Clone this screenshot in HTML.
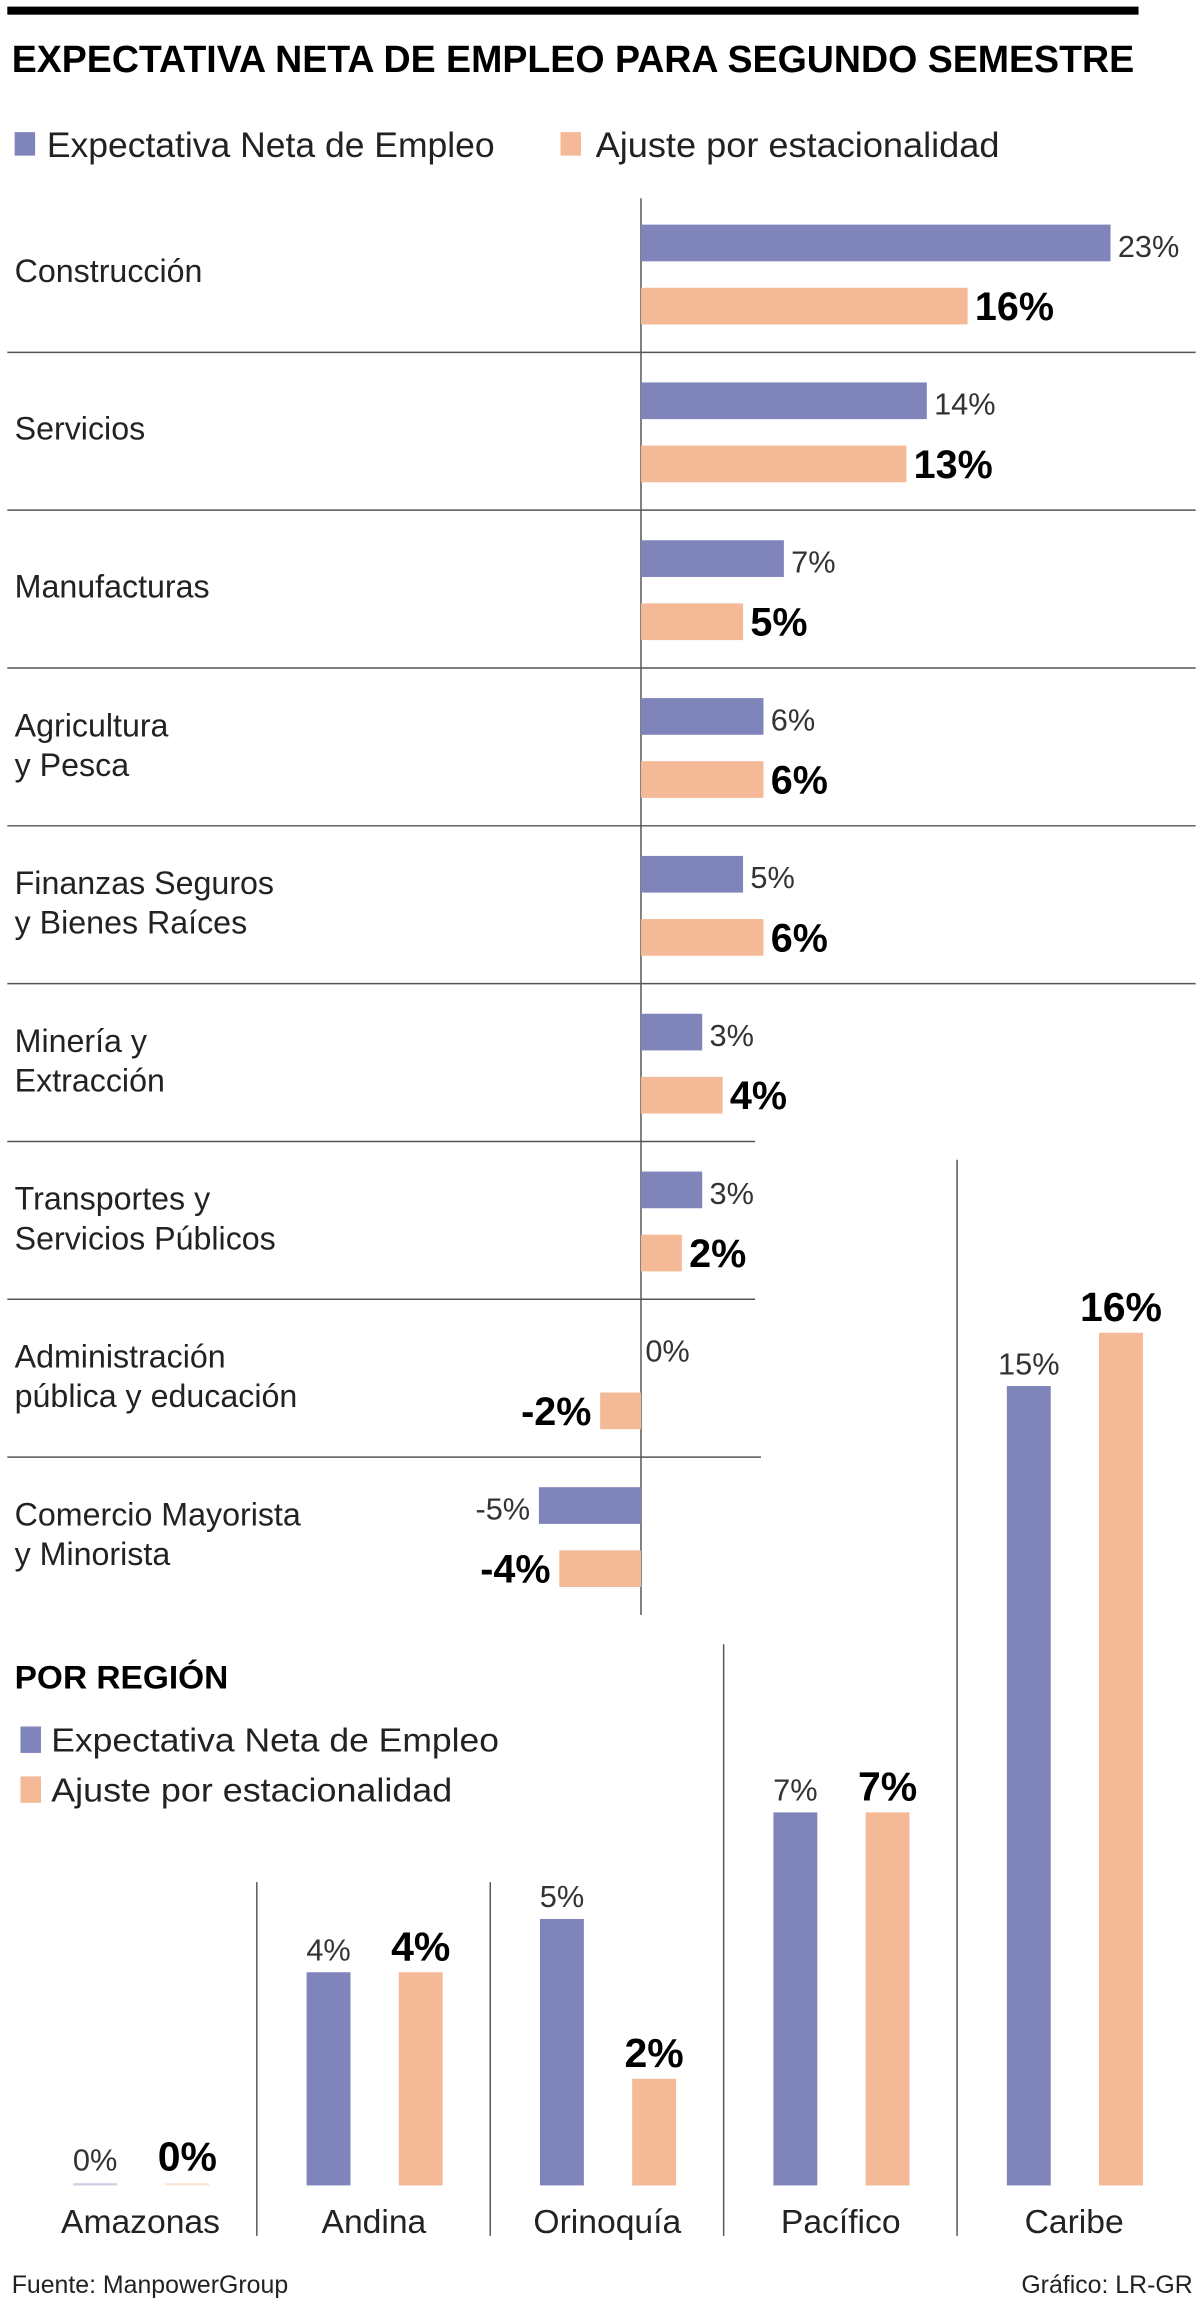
<!DOCTYPE html>
<html><head><meta charset="utf-8">
<style>
html,body{margin:0;padding:0;background:#fff;}
svg{display:block;font-family:"Liberation Sans",sans-serif;}
</style></head>
<body>
<svg id="chart" width="1200" height="2302" viewBox="0 0 820 1568" preserveAspectRatio="none" xmlns="http://www.w3.org/2000/svg">
<rect x="5" y="4.5" width="773" height="5.5" fill="#000"/>
<text x="8" y="49" font-size="26" font-weight="bold" fill="#000" textLength="767" lengthAdjust="spacingAndGlyphs">EXPECTATIVA NETA DE EMPLEO PARA SEGUNDO SEMESTRE</text>
<g>
<rect x="10" y="90" width="14" height="16" fill="#7f84bb"/>
<text x="32" y="107" font-size="24" fill="#222" textLength="306" lengthAdjust="spacingAndGlyphs">Expectativa Neta de Empleo</text>
<rect x="383" y="90" width="14" height="16" fill="#f4b997"/>
<text x="407" y="107" font-size="24" fill="#222" textLength="276" lengthAdjust="spacingAndGlyphs">Ajuste por estacionalidad</text>
</g>
<g id="sectors"></g>
<g id="regions"></g>
<text x="8" y="1562" font-size="17" fill="#222">Fuente: ManpowerGroup</text>
<text x="815" y="1562" font-size="17" fill="#222" text-anchor="end">Gráfico: LR-GR</text>
</svg>
<script>
const sectorLines1 = ["Construcción","Servicios","Manufacturas","Agricultura","Finanzas Seguros","Minería y","Transportes y","Administración","Comercio Mayorista"];
const sectorLines2 = ["","","","y Pesca","y Bienes Raíces","Extracción","Servicios Públicos","pública y educación","y Minorista"];
const sectorExpectativa = [23,14,7,6,5,3,3,0,-5];
const sectorAjuste = [16,13,5,6,6,4,2,-2,-4];
const regionNames = ["Amazonas","Andina","Orinoquía","Pacífico","Caribe"];
const regionExpectativa = [0,4,5,7,15];
const regionAjuste = [0,4,2,7,16];

const NS = "http://www.w3.org/2000/svg";
function mk(parent, tag, attrs, txt){
  const e = document.createElementNS(NS, tag);
  for (const k in attrs) e.setAttribute(k, attrs[k]);
  if (txt !== undefined) e.textContent = txt;
  parent.appendChild(e);
  return e;
}
const BLUE="#7f84bb", ORANGE="#f4b997";

// sector chart
const sg = document.getElementById("sectors");
const x0 = 438, pxPer = 13.95;
const xs = v => x0 + v*pxPer;
const rowTop = i => 153 + 107.5*i;
const sepEnd = [817,817,817,817,817,516,516,520];
const ax = mk(sg,"line",{x1:x0,y1:135,x2:x0,y2:1100,stroke:"#555","stroke-width":1});


sectorLines1.forEach((n,i)=>{
  const t = rowTop(i);
  const mid = t + 35;
  if (sectorLines2[i]) {
    const a = mk(sg,"text",{x:10,y:mid-9,"font-size":22,fill:"#222"},n);
    
    
    const b = mk(sg,"text",{x:10,y:mid+18,"font-size":22,fill:"#222"},sectorLines2[i]);
    
    
  } else {
    const a = mk(sg,"text",{x:10,y:mid+4,"font-size":22,fill:"#222"},n);
    
    
  }
  [[sectorExpectativa[i],BLUE,t,false],[sectorAjuste[i],ORANGE,t+43,true]].forEach(([v,c,y,bold])=>{
    const bx = Math.min(xs(0),xs(v)), bw = Math.abs(xs(v)-xs(0));
    if (bw>0){
      const r = mk(sg,"rect",{x:bx,y:y,width:bw,height:25,fill:c});
      
      
    }
    const lab = v + "%";
    const neg = v < 0;
    const lx = neg ? xs(v)-6 : xs(v)+ (v===0 ? 3 : 5);
    const ly = y+22;
    const tt = mk(sg,"text",{x:lx,y:ly,"font-size":bold?27:21,"font-weight":bold?"bold":"normal",fill:bold?"#000":"#333","text-anchor":neg?"end":"start"},lab);
    
    
  });
  if (i < sectorLines1.length-1){
    const s = mk(sg,"line",{x1:5,y1:t+87,x2:sepEnd[i],y2:t+87,stroke:"#555","stroke-width":1});
    
    
  }
});

// region chart
const rg = document.getElementById("regions");
const h = mk(rg,"text",{x:10,y:1150,"font-size":22,"font-weight":"bold",fill:"#000",textLength:146,lengthAdjust:"spacingAndGlyphs"},"POR REGIÓN");


const l1 = mk(rg,"rect",{x:14,y:1176,width:14,height:18,fill:BLUE});


const l1t = mk(rg,"text",{x:35,y:1193,"font-size":23,fill:"#222",textLength:306,lengthAdjust:"spacingAndGlyphs"},"Expectativa Neta de Empleo");


const l2 = mk(rg,"rect",{x:14,y:1210,width:14,height:18,fill:ORANGE});


const l2t = mk(rg,"text",{x:35,y:1227,"font-size":23,fill:"#222",textLength:274,lengthAdjust:"spacingAndGlyphs"},"Ajuste por estacionalidad");


const base = 1488.6;
const yv = v => base - 36.3*v;
const gx = i => 50 + 159.5*i;
const divTop = [null,1282,1282,1120,790];
regionNames.forEach((n,i)=>{
  const g0 = gx(i);
  if (i>0){
    const d = mk(rg,"line",{x1:g0-34,y1:divTop[i],x2:g0-34,y2:1523,stroke:"#555","stroke-width":1});
    
    
  }
  [[regionExpectativa[i],BLUE,g0,false],[regionAjuste[i],ORANGE,g0+63,true]].forEach(([v,c,x,bold])=>{
    const top = v>0 ? yv(v) : base-1.5;
    const r = mk(rg,"rect",{x:x,y:top,width:30,height:base-top,fill:c,opacity:v>0?1:0.4});
    
    
    const ly = v>0 ? top-8 : base-10;
    const tt = mk(rg,"text",{x:x+15,y:ly,"font-size":bold?28:21,"font-weight":bold?"bold":"normal",fill:bold?"#000":"#333","text-anchor":"middle"},v+"%");
    
    
  });
  const nl = mk(rg,"text",{x:g0+46,y:1521,"font-size":23,fill:"#222","text-anchor":"middle"},n);
  
  
});
</script>
</body></html>
